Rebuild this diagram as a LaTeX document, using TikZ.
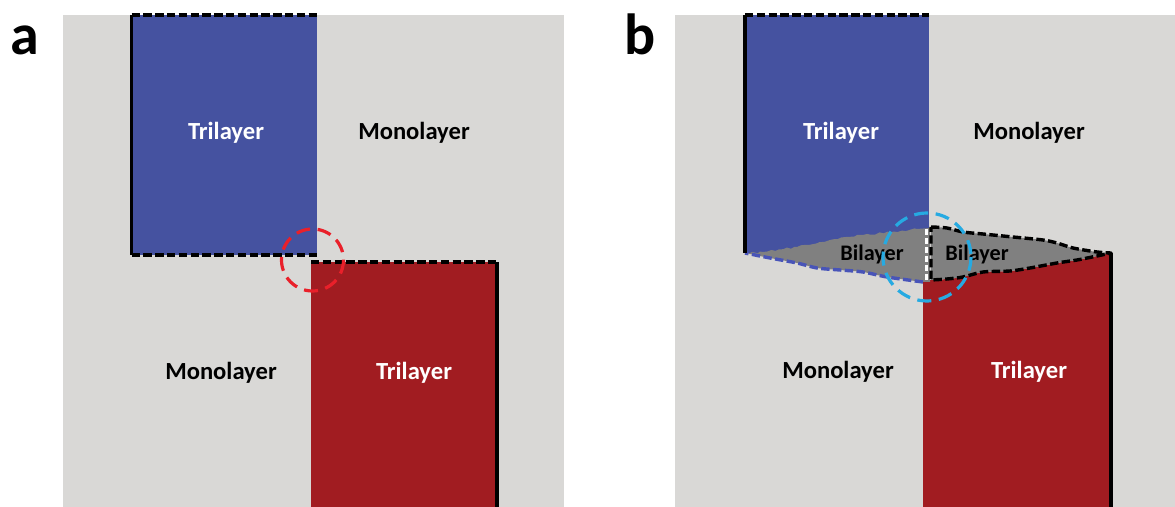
\documentclass[tikz,border=0pt]{standalone}
\usepackage{fontspec}
\setmainfont{Carlito}
\usepackage{tikz}
\usetikzlibrary{decorations.pathmorphing}
\definecolor{monogrey}{RGB}{217,216,214}
\definecolor{bigrey}{RGB}{128,128,128}
\definecolor{triblue}{RGB}{69,82,160}
\definecolor{trired}{RGB}{161,28,33}
\definecolor{edgeblue}{RGB}{72,84,184}
\definecolor{ringred}{RGB}{233,32,42}
\definecolor{ringcyan}{RGB}{38,170,226}

\begin{document}
\begin{tikzpicture}[
  x=0.5pt, y=-0.5pt,
  edge/.style={line width=1.8pt, black},
  dashedge/.style={line width=1.7pt, black, line join=round, dash pattern=on 4.2pt off 1.7pt},
  bluedash/.style={line width=1.7pt, edgeblue, line join=round, dash pattern=on 4.2pt off 1.7pt},
  whitedash/.style={line width=1.5pt, white, dash pattern=on 3pt off 1.5pt},
  ring/.style={line width=1.6pt, dash pattern=on 7pt off 3.8pt},
  layer/.style={font=\fontsize{12.3}{14}\selectfont\bfseries, inner sep=0pt},
  bilabel/.style={font=\fontsize{11.1}{13}\selectfont\bfseries, inner sep=0pt},
  panel/.style={font=\fontsize{29}{34}\selectfont\bfseries, inner sep=0pt, anchor=base}
]
\useasboundingbox (0,0) rectangle (1175,507);
\fill[white] (0,0) rectangle (1175,507);

% panel a
\fill[monogrey] (63,15) rectangle (564,507);
\fill[triblue] (131.5,15) rectangle (317,255);
\fill[trired] (311,262) rectangle (497,507);
\draw[dashedge] (131.5,15) -- (317,15);
\draw[dashedge] (131.5,255) -- (317,255);
\draw[dashedge] (311,262) -- (497,262);
\draw[edge] (131.5,255) -- (131.5,15);
\draw[edge] (497,262) -- (497,507);
\coordinate (ringa) at (312.5,260);

\node[panel] (tagA) at (24.5,55) {a};
\node[layer, text=white] (triA) at (226,133) {Trilayer};
\node[layer] (monoA) at (414,133) {Monolayer};
\node[layer] (monoAlow) at (221,373) {Monolayer};
\node[layer, text=white] (triAlow) at (414,373) {Trilayer};
\draw[ring, ringred] (ringa) circle (31);

% panel b
\fill[monogrey] (675,15) rectangle (1175,507);
\fill[triblue] (745,15) rectangle (929,253);
\fill[trired] (923,507) -- (923,282) -- plot[smooth] coordinates {(931,280) (947,279) (963,277) (983,272) (1010,271) (1030,268) (1057,263) (1077,260) (1097,256) (1111,253)} -- (1111,507) -- cycle;
\fill[bigrey] (745,253) decorate[decoration={random steps, segment length=2pt, amplitude=0.5pt}] {-- (763,252) -- (797,247) -- (830,240) -- (863,235) -- (890,232) -- (917,229)} -- (930,228) -- (930,282) -- plot[smooth] coordinates {(923,282) (887,277) (863,272) (840,270) (817,268) (797,263) (770,258) (745,253)} -- cycle;
\draw[bluedash] plot[smooth] coordinates {(923,282) (887,277) (863,272) (840,270) (817,268) (797,263) (770,258) (745,253)};
\draw[whitedash] (926,229) -- (926,281);
\draw[dashedge, fill=bigrey] plot[smooth] coordinates {(931,227) (947,228) (963,232) (983,234) (1013,237) (1043,240) (1057,243) (1073,248) (1097,252) (1111,253)} -- plot[smooth] coordinates {(1097,256) (1077,260) (1057,263) (1030,268) (1010,271) (983,272) (963,277) (947,279) (931,280)} -- cycle;
\draw[dashedge] (745,15) -- (929,15);
\draw[edge] (745,253) -- (745,15);
\draw[edge] (1111,253) -- (1111,507);
\coordinate (ringb) at (927,257);

\node[panel] (tagB) at (640,55) {b};
\node[layer, text=white] (triB) at (841,133) {Trilayer};
\node[layer] (monoB) at (1029,133) {Monolayer};
\node[layer] (monoBlow) at (838,372) {Monolayer};
\node[layer, text=white] (triBlow) at (1029,372) {Trilayer};
\node[bilabel] (biL) at (872,254) {Bilayer};
\node[bilabel] (biR) at (977,254) {Bilayer};
\draw[ring, ringcyan] (ringb) circle (44);
\end{tikzpicture}
\end{document}
